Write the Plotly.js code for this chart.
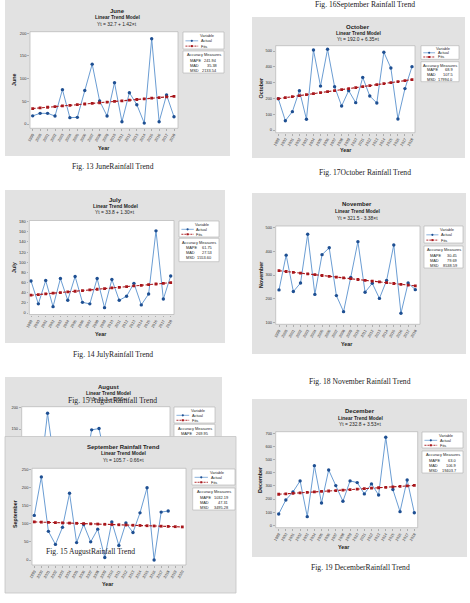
<!DOCTYPE html>
<html>
<head>
<meta charset="utf-8">
<script src="https://cdn.plot.ly/plotly-3.0.1.min.js"></script>
<style>
html, body { margin: 0; padding: 0; background: #ffffff; }
#fig { width: 470px; height: 603px; }
</style>
</head>
<body>
<div id="fig"></div>
<script>
// ---------- data ----------
const years20 = ['1999','2000','2001','2002','2003','2004','2005','2006','2007','2008',
                 '2009','2010','2011','2012','2013','2014','2015','2016','2017','2018'];
const years22 = years20.concat(['2019','2020']);

const juneActual = [18, 23.5, 23.5, 17.6, 75.7, 14, 14.7, 74, 132, 50.7, 17.6, 91, 5, 69, 42.6, 2, 188, 5, 64, 16];
const juneFits   = [34.12, 35.54, 36.96, 38.38, 39.80, 41.22, 42.64, 44.06, 45.48, 46.90,
                    48.32, 49.74, 51.16, 52.58, 54.00, 55.42, 56.84, 58.26, 59.68, 61.10];

const julyActual = [63, 18, 64, 12.5, 68, 25, 72, 21, 18, 68, 10.5, 66, 25, 33, 58.5, 16, 37.5, 162, 27.6, 73];
const julyFits   = [35.1, 36.4, 37.7, 39.0, 40.3, 41.6, 42.9, 44.2, 45.5, 46.8,
                    48.1, 49.4, 50.7, 52.0, 53.3, 54.6, 55.9, 57.2, 58.5, 59.8];

const augustActual = [80, 60, 40, 187, 60, 90, 40, 85, 50, 148, 151, 70, 55, 100, 45, 90, 60, 110, 35, 95];

const septemberActual = [123, 229, 79, 43, 90, 184, 48, 98, 50, 85, 7, 105, 40, 102, 76, 130, 199, 0, 132, 135, null, null];
const septemberFits   = [105.04, 104.38, 103.72, 103.06, 102.40, 101.74, 101.08, 100.42, 99.76, 99.10, 98.44,
                         97.78, 97.12, 96.46, 95.80, 95.14, 94.48, 93.82, 93.16, 92.50, 91.84, 91.18];

const octoberActual = [198, 59, 116, 249, 68, 506, 278, 511, 274, 152, 249, 173, 333, 215, 171, 492, 392, 70, 262, 401];
const octoberFits   = [198.35, 204.70, 211.05, 217.40, 223.75, 230.10, 236.45, 242.80, 249.15, 255.50,
                       261.85, 268.20, 274.55, 280.90, 287.25, 293.60, 299.95, 306.30, 312.65, 319.00];

const novemberActual = [237, 384, 230, 266, 472, 218, 386, 415, 213, 145, 290, 441, 227, 265, 201, 277, 427, 138, 266, 238];
const novemberFits   = [318.12, 314.74, 311.36, 307.98, 304.60, 301.22, 297.84, 294.46, 291.08, 287.70,
                        284.32, 280.94, 277.56, 274.18, 270.80, 267.42, 264.04, 260.66, 257.28, 253.90];

const decemberActual = [86, 193, 254, 338, 66, 454, 170, 421, 302, 183, 338, 325, 239, 315, 231, 670, 272, 104, 345, 96];
const decemberFits   = [236.33, 239.86, 243.39, 246.92, 250.45, 253.98, 257.51, 261.04, 264.57, 268.10,
                        271.63, 275.16, 278.69, 282.22, 285.75, 289.28, 292.81, 296.34, 299.87, 303.40];

const accuracyLabels = ['MAPE', 'MAD', 'MSD'];
const juneAccuracy      = ['241.94', '35.38', '2133.54'];
const julyAccuracy      = ['61.75', '27.53', '1553.60'];
const augustAccuracy    = ['269.95', null, null];
const septemberAccuracy = ['1032.19', '47.31', '3495.28'];
const octoberAccuracy   = ['68.9', '107.5', '17994.0'];
const novemberAccuracy  = ['30.45', '79.69', '8538.59'];
const decemberAccuracy  = ['63.0', '106.9', '19403.7'];

// ---------- page geometry (pixels) ----------
const W = 470, H = 603;
const px = v => v / W;
const py = v => 1 - v / H;
const SANS = 'Liberation Sans, Arial, sans-serif';
const SERIF = 'Liberation Serif, Times New Roman, serif';

const PANEL = '#e2e2e2';
const ACT_LINE = '#6b9dd3';
const ACT_MARK = '#1e4f92';
const FIT_COL = '#a8161b';

const charts = [
  { name: 'June', title: 'June', eq: 'Yt = 32.7 + 1.42×t', years: years20, actual: juneActual, fits: juneFits, acc: juneAccuracy,
    panel: {l:5, r:230, t:-2, b:156}, box: {l:30, r:178, t:31.7, b:128.3}, xf: 32.7, xl: 174,
    ycal: [0, 124, 200, 33.3], dtick: 50, tx: 117, ty: [11, 17.3, 24],
    ylab: [14, 80], yearLab: [104, 147.7],
    leg: {l:183, r:224, t:32, b:49}, accBox: {l:183, r:224, t:51, b:73} },
  { name: 'July', title: 'July', eq: 'Yt = 33.8 + 1.30×t', years: years20, actual: julyActual, fits: julyFits, acc: julyAccuracy,
    panel: {l:5, r:225, t:190, b:343}, box: {l:29.3, r:174, t:220.5, b:314.5}, xf: 31, xl: 170.7,
    ycal: [0, 313, 180, 221.7], dtick: 20, tx: 115, ty: [200, 206.8, 212.7],
    ylab: [14, 268], yearLab: [101, 334],
    leg: {l:179, r:219, t:221, b:237}, accBox: {l:179, r:219, t:238.3, b:261.7} },
  { name: 'August', title: 'August', eq: 'Yt = 81.3 + 0.86×t', years: years20, actual: augustActual, fits: null, acc: augustAccuracy,
    panel: {l:5, r:222, t:377, b:470}, box: {l:21.7, r:170, t:406.7, b:436.5}, plotRectBottom: 470, xf: 25.5, xl: 165.2,
    ycal: [150, 429, 200, 407.7], dtick: 50, tx: 108, ty: [386.5, 393, 399.5],
    ylab: null, yearLab: null, hideX: true,
    leg: {l:174, r:215, t:407, b:423}, accBox: {l:174, r:215, t:424.3, b:450} },
  { name: 'September', title: 'September Rainfall Trend', eq: 'Yt = 105.7 - 0.66×t', years: years22, actual: septemberActual, fits: septemberFits, acc: septemberAccuracy,
    panel: {l:5, r:236, t:436.5, b:593}, panelLine: true, box: {l:32, r:186, t:468.3, b:565}, xf: 34.3, xl: 182.3,
    ycal: [0, 560, 250, 469.3], dtick: 50, tx: 123, ty: [447, 453.3, 460],
    ylab: [15, 513], yearLab: [108, 584],
    leg: {l:192, r:235, t:469, b:485}, accBox: {l:192.7, r:235, t:488, b:510} },
  { name: 'October', title: 'October', eq: 'Yt = 192.0 + 6.35×t', years: years20, actual: octoberActual, fits: octoberFits, acc: octoberAccuracy,
    panel: {l:252, r:465, t:17, b:158}, box: {l:275.7, r:415, t:45.7, b:132.7}, xf: 278.3, xl: 412,
    ycal: [0, 130, 500, 51], dtick: 100, tx: 358, ty: [27, 33.3, 39],
    ylab: [260.5, 88], yearLab: [346, 150],
    leg: {l:421, r:459, t:45.7, b:59.3}, accBox: {l:421, r:459, t:61.7, b:81.7} },
  { name: 'November', title: 'November', eq: 'Yt = 321.5 - 3.38×t', years: years20, actual: novemberActual, fits: novemberFits, acc: novemberAccuracy,
    panel: {l:252, r:466, t:193, b:354}, box: {l:275.7, r:420, t:226, b:324.3}, xf: 279, xl: 415.3,
    ycal: [100, 322.3, 500, 227.7], dtick: 100, tx: 357, ty: [204, 211, 218],
    ylab: [261, 275], yearLab: [347, 344.3],
    leg: {l:424, r:463, t:226, b:243}, accBox: {l:424, r:463, t:246, b:268} },
  { name: 'December', title: 'December', eq: 'Yt = 232.8 + 3.53×t', years: years20, actual: decemberActual, fits: decemberFits, acc: decemberAccuracy,
    panel: {l:252, r:467, t:399, b:557}, box: {l:275.7, r:417.7, t:431.7, b:527.7}, xf: 278.7, xl: 414.3,
    ycal: [0, 525.3, 700, 433.3], dtick: 100, tx: 360, ty: [411, 418, 424.3],
    ylab: [260, 480], yearLab: [344, 547.3],
    leg: {l:422, r:463, t:432, b:448}, accBox: {l:422, r:463, t:451, b:473} }
];

const captions = [
  ['Fig. 16September Rainfall Trend', 365, 4.8],
  ['Fig. 13 JuneRainfall Trend', 113, 166],
  ['Fig. 17October Rainfall Trend', 365, 172],
  ['Fig. 14 JulyRainfall Trend', 113, 354.3],
  ['Fig. 18 November Rainfall Trend', 360, 381],
  ['Fig. 15 AugustRainfall Trend', 112, 400.5],
  ['Fig. 15 AugustRainfall Trend', 90.5, 551],
  ['Fig. 19 DecemberRainfall Trend', 360, 567.7]
];

// ---------- build figure ----------
const traces = [];
const shapes = [];
const annotations = [];
const layout = {
  width: W, height: H,
  margin: {l: 0, r: 0, t: 0, b: 0},
  paper_bgcolor: '#ffffff',
  plot_bgcolor: 'rgba(0,0,0,0)',
  showlegend: false,
  font: {family: SANS, color: '#222'}
};

function rect(b, fill, lineColor, lineWidth) {
  shapes.push({type: 'rect', xref: 'paper', yref: 'paper', layer: 'below',
    x0: px(b.l), x1: px(b.r), y0: py(b.b), y1: py(b.t),
    fillcolor: fill, line: {color: lineColor || fill, width: lineWidth || 0}});
}
function seg(x0, x1, y, color, width, dash) {
  shapes.push({type: 'line', xref: 'paper', yref: 'paper', layer: 'below',
    x0: px(x0), x1: px(x1), y0: py(y), y1: py(y), line: {color, width, dash: dash || 'solid'}});
}
function dot(cx, cy, r, color, kind) {
  shapes.push({type: kind === 'square' ? 'rect' : 'circle', xref: 'paper', yref: 'paper', layer: 'below',
    x0: px(cx - r), x1: px(cx + r), y0: py(cy + r), y1: py(cy - r),
    fillcolor: color, line: {color, width: 0}});
}
function txt(x, y, text, size, extra) {
  annotations.push(Object.assign({
    xref: 'paper', yref: 'paper', x: px(x), y: py(y), text: text, showarrow: false,
    xanchor: 'center', yanchor: 'middle', borderpad: 0,
    font: {family: SANS, size: size, color: '#222'}
  }, extra || {}));
}

charts.forEach((c, i) => {
  const sfx = i === 0 ? '' : String(i + 1);
  const n = c.years.length;
  const idx = c.years.map((_, k) => k + 1);

  // panel, plot area, legend and accuracy boxes
  rect(c.panel, PANEL, c.panelLine ? '#c4c4c4' : PANEL, c.panelLine ? 0.8 : 0);
  rect({l: c.box.l, r: c.box.r, t: c.box.t, b: c.plotRectBottom || c.box.b}, '#ffffff', '#b4b4b4', 0.7);
  rect(c.leg, '#ffffff', '#b0b0b0', 0.6);
  rect(c.accBox, '#ffffff', '#b0b0b0', 0.6);

  // axes
  const s = (c.xl - c.xf) / (n - 1);
  const xr = [1 - (c.xf - c.box.l) / s, n + (c.box.r - c.xl) / s];
  const [v1, p1, v2, p2] = c.ycal;
  const k = (p1 - p2) / (v2 - v1);
  const yr = [v1 - (c.box.b - p1) / k, v1 + (p1 - c.box.t) / k];

  layout['xaxis' + sfx] = {
    domain: [px(c.box.l), px(c.box.r)], range: xr, anchor: 'y' + sfx,
    visible: !c.hideX,
    tickmode: 'array', tickvals: idx, ticktext: c.years, tickangle: -60,
    tickfont: {family: SANS, size: 3.8, color: '#333'},
    ticks: 'outside', ticklen: 1.8, tickwidth: 0.5, tickcolor: '#777',
    showgrid: false, zeroline: false, showline: false, fixedrange: true
  };
  layout['yaxis' + sfx] = {
    domain: [py(c.box.b), py(c.box.t)], range: yr, anchor: 'x' + sfx,
    tick0: 0, dtick: c.dtick,
    tickfont: {family: SANS, size: 4, color: '#333'},
    ticks: 'outside', ticklen: 1.8, tickwidth: 0.5, tickcolor: '#777',
    showgrid: false, zeroline: false, showline: false, fixedrange: true
  };

  // series
  traces.push({
    type: 'scatter', mode: 'lines+markers', x: idx, y: c.actual,
    xaxis: 'x' + sfx, yaxis: 'y' + sfx, hoverinfo: 'skip',
    line: {color: ACT_LINE, width: 1},
    marker: {color: ACT_MARK, size: 3.4, symbol: 'circle'}
  });
  if (c.fits) {
    traces.push({
      type: 'scatter', mode: 'lines+markers', x: idx, y: c.fits,
      xaxis: 'x' + sfx, yaxis: 'y' + sfx, hoverinfo: 'skip',
      line: {color: FIT_COL, width: 1.1, dash: '3px,1.6px'},
      marker: {color: FIT_COL, size: 2.8, symbol: 'square'}
    });
  }

  // titles
  txt(c.tx, c.ty[0], '<b>' + c.title + '</b>', 6);
  txt(c.tx, c.ty[1], '<b>Linear Trend Model</b>', 4.9);
  txt(c.tx, c.ty[2], c.eq, 4.9);
  if (c.ylab) txt(c.ylab[0], c.ylab[1], '<b>' + c.name + '</b>', 5.4, {textangle: -90});
  if (c.yearLab) txt(c.yearLab[0], c.yearLab[1], '<b>Year</b>', 5.4);

  // legend box
  const L = c.leg, lw = L.r - L.l, lh = L.b - L.t;
  const rowA = L.t + 0.52 * lh, rowF = L.t + 0.83 * lh;
  txt(L.l + 0.58 * lw, L.t + 0.2 * lh, 'Variable', 3.9);
  seg(L.l + 0.06 * lw, L.l + 0.37 * lw, rowA, ACT_LINE, 0.8);
  dot(L.l + 0.215 * lw, rowA, 1.1, ACT_MARK, 'circle');
  txt(L.l + 0.41 * lw, rowA, 'Actual', 3.9, {xanchor: 'left'});
  seg(L.l + 0.06 * lw, L.l + 0.37 * lw, rowF, FIT_COL, 0.9, '2px,1px');
  dot(L.l + 0.215 * lw, rowF, 1.0, FIT_COL, 'square');
  txt(L.l + 0.41 * lw, rowF, 'Fits', 3.9, {xanchor: 'left'});

  // accuracy measures box
  const A = c.accBox, aw = A.r - A.l, ah = 22 * (A.b - A.t) / 22;
  const hA = Math.min(ah, 22);
  txt(A.l + 0.5 * aw, A.t + 0.18 * hA, 'Accuracy Measures', 3.9);
  [0.41, 0.64, 0.87].forEach((f, j) => {
    if (c.acc[j] === null) return;
    txt(A.l + 0.14 * aw, A.t + f * hA, accuracyLabels[j], 3.9, {xanchor: 'left'});
    txt(A.r - 0.14 * aw, A.t + f * hA, c.acc[j], 3.9, {xanchor: 'right'});
  });
});

captions.forEach(([t, x, y]) => {
  txt(x, y, t, 7.6, {font: {family: SERIF, size: 7.6, color: '#222'}});
});

layout.shapes = shapes;
layout.annotations = annotations;

Plotly.newPlot('fig', traces, layout, {staticPlot: true, displayModeBar: false});
</script>
</body>
</html>
